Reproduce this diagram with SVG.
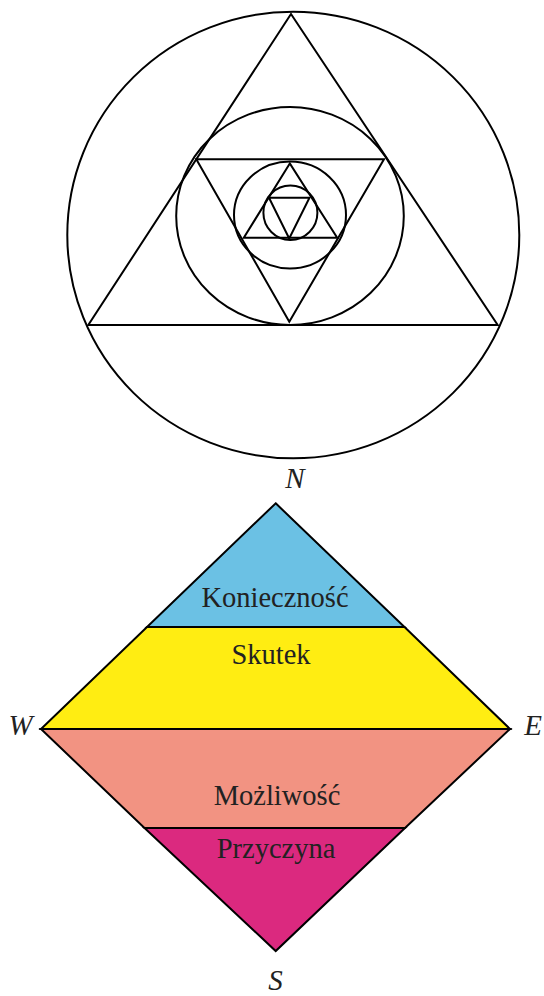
<svg xmlns="http://www.w3.org/2000/svg" width="544" height="996" viewBox="0 0 544 996">
<style>
.ln{fill:none;stroke:#000;stroke-width:2;stroke-linejoin:miter}
.band{stroke:#000;stroke-width:2;stroke-linejoin:miter}
.lbl{font-family:"Liberation Serif","Times New Roman",serif;font-size:28.5px;fill:#222;text-anchor:middle}
.dir{font-family:"Liberation Serif","Times New Roman",serif;font-size:29px;font-style:italic;fill:#222;text-anchor:middle}
</style>
<rect width="544" height="996" fill="#fff"/>
<g id="geometry">
<ellipse class="ln" cx="293.3" cy="235" rx="226" ry="223.3"/>
<polygon class="ln" points="291,14 88.3,325 497.7,325"/>
<ellipse class="ln" cx="290" cy="216" rx="113.8" ry="109"/>
<polygon class="ln" points="196.3,159.3 384,159.3 289.3,321.7"/>
<ellipse class="ln" cx="290" cy="215" rx="56" ry="53.5"/>
<polygon class="ln" points="289.8,163.5 243.8,237.7 337.2,237.7"/>
<ellipse class="ln" cx="290.4" cy="212.8" rx="27" ry="27.2"/>
<polygon class="ln" points="269,197.7 309.5,197.7 289.2,238.5"/>
</g>
<g id="diamond">
<g id="band-koniecznosc">
<polygon class="band" fill="#6BC1E4" points="275.7,503.3 404.5,627 147,627"/>
<text class="lbl" x="275" y="607">Konieczność</text>
</g>
<g id="band-skutek">
<polygon class="band" fill="#FFED12" points="147,627 404.5,627 510,729 41,729"/>
<text class="lbl" x="271" y="664">Skutek</text>
</g>
<g id="band-mozliwosc">
<polygon class="band" fill="#F29382" points="41,729 510,729 405,828 144.5,828"/>
<text class="lbl" x="277" y="805">Możliwość</text>
</g>
<g id="band-przyczyna">
<polygon class="band" fill="#DB297F" points="144.5,828 405,828 275.7,951"/>
<text class="lbl" x="276" y="858">Przyczyna</text>
</g>
</g>
<g id="labels">
<text class="dir" x="295" y="488">N</text>
<text class="dir" x="20.5" y="735">W</text>
<text class="dir" x="533" y="735">E</text>
<text class="dir" x="275.5" y="990">S</text>
</g>
</svg>
